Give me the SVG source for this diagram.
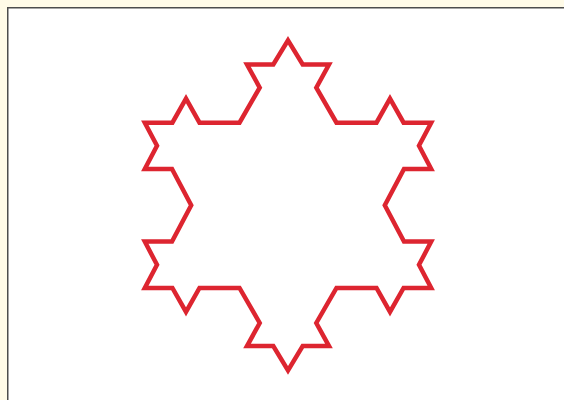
<svg xmlns="http://www.w3.org/2000/svg" width="564" height="400" viewBox="0 0 564 400">
<style>
.bg{fill:#fffbe8}
.frame{fill:#ffffff;stroke:#4d4d4d;stroke-width:1.5}
.koch{fill:none;stroke:#dd2530;stroke-width:4.5;stroke-linejoin:miter;stroke-miterlimit:10}
</style>
<rect class="bg" x="0" y="0" width="564" height="400"/>
<rect class="frame" x="7.75" y="7.75" width="600" height="500"/>
<g id="snowflake">
<polygon class="koch" points="288,40.3 302.7,64.5 329,64.5 316.3,87.6 336.5,122.7 376.5,122.7 390,98.7 403.6,122.7 431.2,122.7 419,145.8 431.2,169 404,169 384.8,205.3 404,241.6 431.2,241.6 419,264.8 431.2,287.9 403.6,287.9 390,311.9 376.5,287.9 336.5,287.9 316.3,323 329,346.1 302.7,346.1 288,370.3 273.3,346.1 247,346.1 259.7,323 239.5,287.9 199.5,287.9 186,311.9 172.4,287.9 144.8,287.9 157,264.8 144.8,241.6 172,241.6 191.2,205.3 172,169 144.8,169 157,145.8 144.8,122.7 172.4,122.7 186,98.7 199.5,122.7 239.5,122.7 259.7,87.6 247,64.5 273.3,64.5"/>
</g>
</svg>
